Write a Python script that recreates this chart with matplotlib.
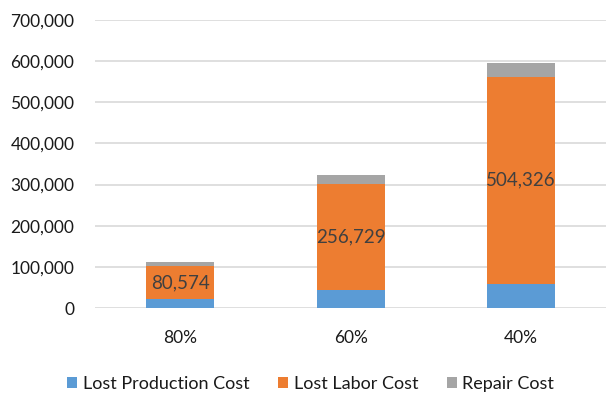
import numpy as np
import matplotlib.pyplot as plt
from matplotlib.ticker import FuncFormatter

plt.rcParams['font.family'] = ['Lato', 'DejaVu Sans']

# cost breakdown per scenario
scenarios = ['80%', '60%', '40%']
lostProduction = [21600, 45000, 58000]
lostLabor = [80574, 256729, 504326]
repairCost = [10000, 20700, 34000]

blue = '#5B9BD5'
orange = '#ED7D31'
gray = '#A5A5A5'

fig = plt.figure(figsize=(6.06, 3.97), dpi=100)
ax = fig.add_axes([0.157, 0.224, 0.843, 0.726])

x = np.arange(len(scenarios))
w = 0.4
prod = np.array(lostProduction)
labor = np.array(lostLabor)
repair = np.array(repairCost)

ax.bar(x, prod, w, color=blue, label='Lost Production Cost', zorder=3)
ax.bar(x, labor, w, bottom=prod, color=orange, label='Lost Labor Cost', zorder=3)
ax.bar(x, repair, w, bottom=prod + labor, color=gray, label='Repair Cost', zorder=3)

#labels in the middle of the labor segment
for xi, p, l in zip(x, prod, labor):
    ax.text(xi, p + l / 2, '{:,}'.format(l), ha='center', va='center',
            fontsize=13.5, color='#404040', zorder=4)

ax.set_xlim(-0.5, 2.5)
ax.set_ylim(0, 700000)
ax.set_yticks(np.arange(0, 700001, 100000))
ax.yaxis.set_major_formatter(FuncFormatter(lambda v, pos: '{:,}'.format(int(v))))
ax.set_xticks(x)
ax.set_xticklabels(scenarios)

ax.grid(axis='y', color='#D9D9D9', linewidth=1.2, zorder=0)
for s in ax.spines.values():
    s.set_visible(False)
ax.tick_params(axis='both', length=0, labelsize=12.5, labelcolor='#1a1a1a')
ax.tick_params(axis='y', pad=15)
ax.tick_params(axis='x', pad=16)

fig.legend(loc='center', bbox_to_anchor=(0.513, 0.033), ncol=3, frameon=False,
           fontsize=13, handlelength=0.55, handleheight=0.55, handletextpad=0.3,
           columnspacing=1.6, labelcolor='#1a1a1a')

fig.savefig('out.png', dpi=100)
